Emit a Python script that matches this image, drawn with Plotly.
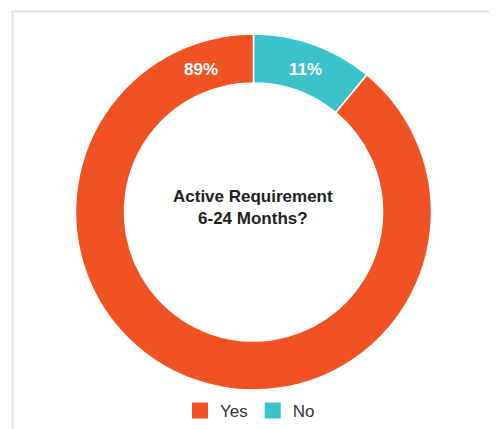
import math
import plotly.graph_objects as go

labels = ["Yes", "No"]
values = [89, 11]
colors = ["#f05224", "#3bc3cc"]
center_title = "Active Requirement<br>6-24 Months?"

# page body has an 8px margin; figure coords = page coords - 8
OFF = 8
W, H = 497 - OFF, 429 - OFF
cx, cy, R = 253.5 - OFF, 212.0 - OFF, 178.0
hole = 0.725

fig = go.Figure()
# ring drawn "No" first, clockwise from 12 o'clock
fig.add_trace(go.Pie(
    labels=labels[::-1], values=values[::-1], sort=False, direction="clockwise", rotation=0,
    hole=hole, marker=dict(colors=colors[::-1], line=dict(color="white", width=1.5)),
    textinfo="none", hoverinfo="label+percent", showlegend=False,
    domain=dict(x=[(cx - R) / W, (cx + R) / W], y=[(H - cy - R) / H, (H - cy + R) / H]),
))

# legend entries (larger square swatches)
for lab, col in zip(labels, colors):
    fig.add_trace(go.Scatter(x=[None], y=[None], mode="markers", name=lab,
                             marker=dict(symbol="square", size=16, color=col),
                             showlegend=True, hoverinfo="skip"))

# percentage labels placed on the ring, mirrored about the top
total = sum(values)
half_ang = math.radians(values[1] / total * 360 / 2)
rmid = R * (1 + hole) / 2
for val, sign in [(values[0], -1), (values[1], 1)]:
    px = cx + sign * rmid * math.sin(half_ang)
    py = cy - rmid * math.cos(half_ang) + 2
    fig.add_annotation(x=px / W, y=1 - py / H, xref="paper", yref="paper",
                       xanchor="center", yanchor="middle",
                       text=f"{round(val / total * 100)}%", showarrow=False,
                       font=dict(color="white", size=17, family="Liberation Sans, Arial",
                                 weight=700))

fig.add_annotation(x=cx / W, y=1 - (207.5 - OFF) / H, xref="paper", yref="paper",
                   xanchor="center", yanchor="middle",
                   text=f"<b>{center_title}</b>", showarrow=False,
                   font=dict(color="#222222", size=17, family="Liberation Sans, Arial"))

fig.add_shape(type="rect", xref="paper", yref="paper",
              x0=(12.5 - OFF) / W, x1=(494.5 - OFF) / W, y0=-0.05, y1=1 - (11.5 - OFF) / H,
              line=dict(color="#e2e2de", width=2))

fig.update_layout(
    width=W, height=H, margin=dict(l=0, r=0, t=0, b=0),
    paper_bgcolor="white", plot_bgcolor="white",
    xaxis=dict(visible=False), yaxis=dict(visible=False),
    showlegend=True,
    legend=dict(orientation="h", x=(250 - OFF) / W, xanchor="center",
                y=1 - (411 - OFF) / H, yanchor="middle",
                font=dict(size=17, color="#333333", family="Liberation Sans, Arial"),
                itemwidth=30),
)

fig.write_html("out.html")
